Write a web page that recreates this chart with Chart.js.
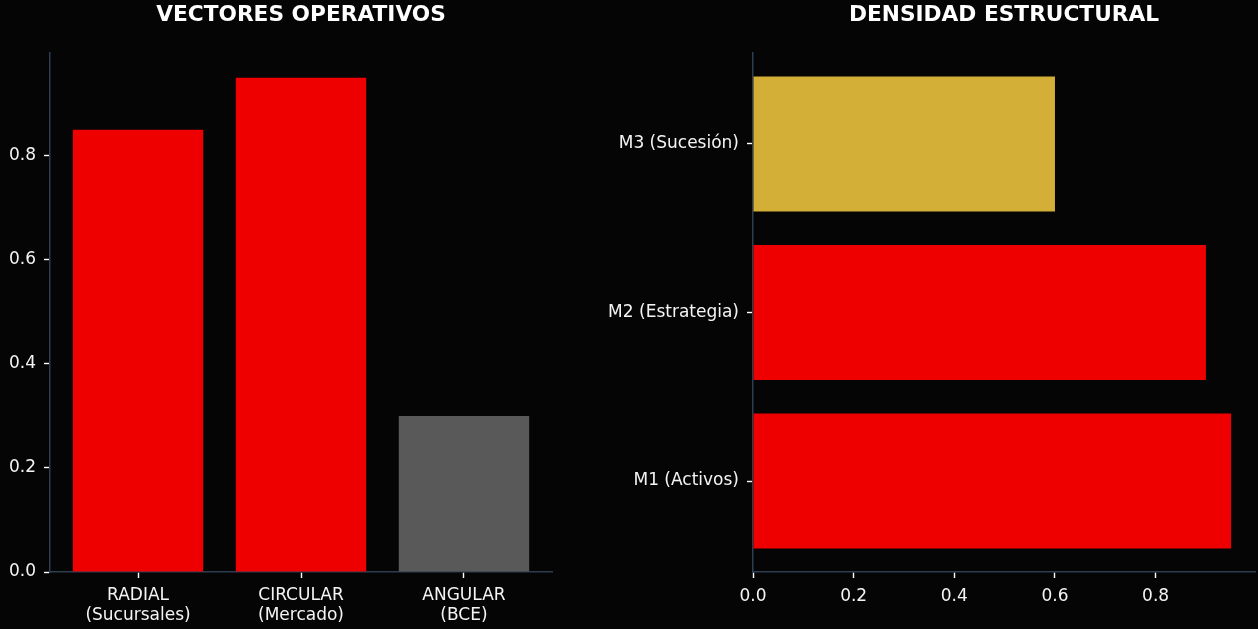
<!DOCTYPE html>
<html>
<head>
<meta charset="utf-8">
<script src="https://cdn.jsdelivr.net/npm/chart.js@4.4.1/dist/chart.umd.min.js"></script>
<style>
  html,body{margin:0;padding:0;background:#050505;overflow:hidden;}
  #wrap{position:relative;width:1258px;height:629px;background:#050505;}
  canvas{position:absolute;top:0;}
  #vecChart{left:0;}
  #densChart{left:560px;}
</style>
</head>
<body>
<div id="wrap">
  <canvas id="vecChart" width="560" height="629"></canvas>
  <canvas id="densChart" width="698" height="629"></canvas>
</div>
<script>
// datos
const vecLabels = [['RADIAL','(Sucursales)'],['CIRCULAR','(Mercado)'],['ANGULAR','(BCE)']];
const vecValues = [0.85, 0.95, 0.30];
const vecColors = ['#ee0000','#ee0000','#595959'];

const densLabels = ['M1 (Activos)','M2 (Estrategia)','M3 (Sucesión)'];
const densValues = [0.95, 0.90, 0.60];
const densColors = ['#ee0000','#ee0000','#d4af37'];

const valTicks = [0, 0.2, 0.4, 0.6, 0.8];

const FONT = 'DejaVu Sans';
const TXT = '#f4f4f4';
const SPINE = '#2c3e50';

Chart.defaults.font.family = FONT;
Chart.defaults.color = TXT;

// titulo centrado sobre el area del grafico
const centerTitle = {
  id:'centerTitle',
  afterDraw(chart, args, opts){
    const {ctx, chartArea} = chart;
    ctx.save();
    ctx.font = 'bold 21.7px ' + FONT;
    ctx.fillStyle = '#ffffff';
    ctx.textAlign = 'center';
    ctx.textBaseline = 'middle';
    ctx.fillText(opts.text, (chartArea.left + chartArea.right) / 2, 15);
    ctx.restore();
  }
};

function valAxis(max){
  return {
    type:'linear', min:0, max:max, offset:false,
    border:{display:true, color:SPINE, width:1.5},
    grid:{drawOnChartArea:false, drawTicks:true, tickLength:6, tickColor:'#ffffff', tickWidth:1.4, offset:false},
    ticks:{stepSize:0.2, includeBounds:false, font:{size:17}, color:TXT, padding:8,
      callback:v=>v.toFixed(1)},
    afterBuildTicks:s=>{ s.ticks = valTicks.map(v=>({value:v})); }
  };
}
function catAxis(labels){
  return {
    type:'linear', min:-0.54, max:labels.length-0.46, offset:false,
    border:{display:true, color:SPINE, width:1.5},
    grid:{drawOnChartArea:false, drawTicks:true, tickLength:6, tickColor:'#ffffff', tickWidth:1.4, offset:false},
    ticks:{font:{size:17, lineHeight:1.15}, color:TXT, padding:8, callback:v=>labels[v]},
    afterBuildTicks:s=>{ s.ticks = labels.map((_,i)=>({value:i})); }
  };
}

const vx = catAxis(vecLabels);
vx.afterFit = s=>{ s.height = 57; };
const vy = valAxis(Math.max(...vecValues)*1.05);
vy.afterFit = s=>{ s.width = 50; };

new Chart(document.getElementById('vecChart').getContext('2d'), {
  type:'bar',
  data:{
    datasets:[{
      data: vecValues.map((v,i)=>({x:i, y:v})),
      backgroundColor: vecColors,
      borderWidth:0,
      barPercentage:1.0,
      categoryPercentage:0.8
    }]
  },
  options:{
    responsive:false, animation:false,
    layout:{padding:{left:0, right:8, top:53, bottom:0}},
    scales:{x:vx, y:vy},
    plugins:{legend:{display:false}, tooltip:{enabled:false}, title:{display:false},
      centerTitle:{text:'VECTORES OPERATIVOS'}}
  },
  plugins:[centerTitle]
});

const dx = valAxis(Math.max(...densValues)*1.05);
dx.afterFit = s=>{ s.height = 57; };
const dy = catAxis(densLabels);
dy.afterFit = s=>{ s.width = 193; };

new Chart(document.getElementById('densChart').getContext('2d'), {
  type:'bar',
  data:{
    datasets:[{
      data: densValues.map((v,i)=>({x:v, y:i})),
      backgroundColor: densColors,
      borderWidth:0,
      barPercentage:1.0,
      categoryPercentage:0.8
    }]
  },
  options:{
    indexAxis:'y',
    responsive:false, animation:false,
    layout:{padding:{left:0, right:3, top:53, bottom:0}},
    scales:{x:dx, y:dy},
    plugins:{legend:{display:false}, tooltip:{enabled:false}, title:{display:false},
      centerTitle:{text:'DENSIDAD ESTRUCTURAL'}}
  },
  plugins:[centerTitle]
});
</script>
</body>
</html>
